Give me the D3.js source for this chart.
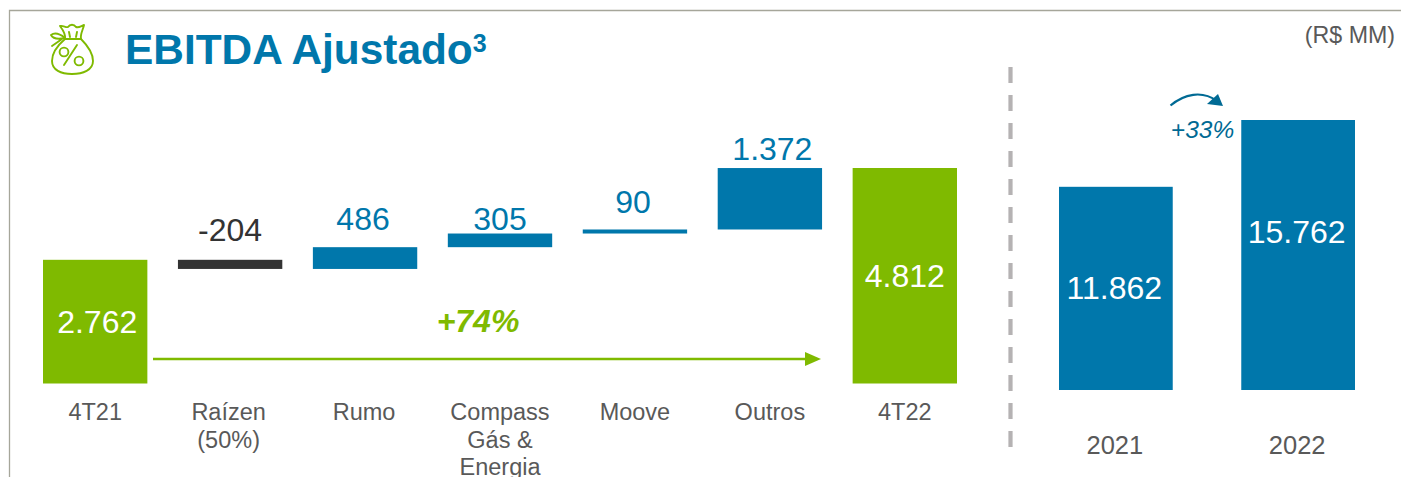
<!DOCTYPE html>
<html>
<head>
<meta charset="utf-8">
<script src="https://cdn.jsdelivr.net/npm/d3@7"></script>
<style>
html,body{margin:0;padding:0;background:#fff;overflow:hidden}
svg{display:block}
text{font-family:"Liberation Sans",Arial,sans-serif}
</style>
</head>
<body>
<svg id="c" width="1401" height="477"></svg>
<script>
const wfCategories = [["4T21"],["Raízen","(50%)"],["Rumo"],["Compass","Gás &","Energia"],["Moove"],["Outros"],["4T22"]];
const wfValues = [2762,-204,486,305,90,1372,4812];
const wfKinds = ["total","neg","pos","pos","pos","pos","total"];
const annualYears = ["2021","2022"];
const annualValues = [11862,15762];
const titleText = "EBITDA Ajustado";
const unitText = "(R$ MM)";
const wfGrowth = "+74%";
const annualGrowth = "+33%";

const BLUE="#0077ab", GREEN="#7fba00", DARK="#333333", GREY="#595959";
const svg=d3.select("#c");
const fmt=d3.formatLocale({decimal:",",thousands:".",grouping:[3],currency:["R$",""],minus:"-"}).format(",d");

// frame
svg.append("path").attr("d","M9.5,477V10.5H1401").attr("fill","none").attr("stroke","#a6a69a").attr("stroke-width",1.3);

// title
const t=svg.append("text").attr("x",125).attr("y",64).attr("font-size",42.4).attr("font-weight","bold").attr("fill",BLUE).text(titleText);
t.append("tspan").attr("font-size",25).attr("dy",-12).text("3");
svg.append("text").attr("x",1395).attr("y",43).attr("text-anchor","end").attr("font-size",23.2).attr("fill",GREY).text(unitText);

// icon
const ic=svg.append("g").attr("fill","none").attr("stroke",GREEN).attr("stroke-width",1.9).attr("stroke-linecap","round").attr("stroke-linejoin","round");
ic.append("path").attr("d","M65,39C58,45 52,52 52,61C52,70 61,74 72,74C83,74 93,70 93,61C93,52 87,45 81,39Z");
ic.append("path").attr("d","M65,39C66,35 63,30 60,26C63,25 66,28 68,27C70,24 74,24 76,27C79,28 81,26 84,25C83,30 80,34 81,39");
ic.append("path").attr("d","M65,38C60,34 55,32 51,35C53,39 60,39 65,38M62,39L52,46");
ic.append("path").attr("d","M70,37L69,32M76,37L77,32");
ic.append("path").attr("d","M64,65L77,45");
ic.append("circle").attr("cx",64).attr("cy",52).attr("r",4.4);
ic.append("circle").attr("cx",79).attr("cy",61).attr("r",4.4);

// waterfall
const wfKeys=wfCategories.map(d=>d.join(" "));
const x=d3.scaleBand().domain(wfKeys).range([43,957]).paddingInner(0.2266).paddingOuter(0);
const y=d3.scaleLinear().domain([0,4812]).range([383.5,168]);
let running=0;
const wf=wfValues.map((v,i)=>{
  let lo,hi;
  if(wfKinds[i]==="total"){lo=0;hi=v;running=v;}
  else{const n=running+v;lo=Math.min(running,n);hi=Math.max(running,n);running=n;}
  return {key:wfKeys[i],lines:wfCategories[i],v,kind:wfKinds[i],lo,hi};
});
const color=k=>k==="total"?GREEN:k==="neg"?DARK:BLUE;
svg.append("g").selectAll("rect").data(wf).join("rect")
  .attr("x",d=>x(d.key)).attr("width",x.bandwidth())
  .attr("y",d=>y(d.hi)).attr("height",d=>y(d.lo)-y(d.hi))
  .attr("fill",d=>color(d.kind));
const labelGap=[0,19,17,4,16,8,0];
const labelShift=[2,0,-2,0,-2,2.5,0];
svg.append("g").selectAll("text").data(wf).join("text")
  .attr("x",(d,i)=>x(d.key)+x.bandwidth()/2+labelShift[i])
  .attr("y",(d,i)=>d.kind==="total"?(y(d.hi)+y(0))/2+11:y(d.hi)-labelGap[i])
  .attr("text-anchor","middle").attr("font-size",32)
  .attr("fill",d=>d.kind==="total"?"#fff":d.kind==="neg"?DARK:BLUE)
  .text(d=>fmt(d.v));
const catShift=[0,-1.5,-1,0,0,0,0];
const cat=svg.append("g").selectAll("text").data(wf).join("text")
  .attr("text-anchor","middle").attr("font-size",23.5).attr("fill",GREY);
cat.selectAll("tspan").data((d,j)=>d.lines.map(l=>({l,cx:x(d.key)+x.bandwidth()/2+catShift[j]}))).join("tspan")
  .attr("x",d=>d.cx).attr("y",(d,i)=>420+i*27.5).text(d=>d.l);

// growth arrow
svg.append("line").attr("x1",153).attr("x2",808).attr("y1",359).attr("y2",359).attr("stroke",GREEN).attr("stroke-width",2.6);
svg.append("path").attr("d","M805,352L821,359L805,366Z").attr("fill",GREEN);
svg.append("text").attr("x",478).attr("y",332).attr("text-anchor","middle").attr("font-size",32).attr("font-weight","bold").attr("font-style","italic").attr("fill",GREEN).text(wfGrowth);

// divider
svg.append("line").attr("x1",1010.5).attr("x2",1010.5).attr("y1",67).attr("y2",447).attr("stroke","#b5b2b3").attr("stroke-width",4.2).attr("stroke-dasharray","16 12");

// annual
const xa=d3.scaleBand().domain(annualYears).range([1059,1355]).paddingInner(0.376).paddingOuter(0);
const ya=d3.scaleLinear().domain([0,15762]).range([390,120]);
const an=annualYears.map((k,i)=>({k,v:annualValues[i]}));
svg.append("g").selectAll("rect").data(an).join("rect")
  .attr("x",d=>xa(d.k)).attr("width",xa.bandwidth()).attr("y",d=>ya(d.v)).attr("height",d=>ya(0)-ya(d.v)).attr("fill",BLUE);
const annualLabelY=[299,243];
svg.append("g").selectAll("text").data(an).join("text")
  .attr("x",d=>xa(d.k)+xa.bandwidth()/2-1.5).attr("y",(d,i)=>annualLabelY[i]).attr("text-anchor","middle").attr("font-size",32).attr("fill","#fff").text(d=>fmt(d.v));
svg.append("g").selectAll("text").data(an).join("text")
  .attr("x",d=>xa(d.k)+xa.bandwidth()/2-1).attr("y",454).attr("text-anchor","middle").attr("font-size",25.5).attr("fill",GREY).text(d=>d.k);

// annual growth
svg.append("path").attr("d","M1170.5,105.5C1184,94 1202,90 1217,101").attr("fill","none").attr("stroke","#006a94").attr("stroke-width",2.2);
svg.append("path").attr("d","M1223,106L1207,104L1218,94Z").attr("fill","#006a94");
svg.append("text").attr("x",1202.5).attr("y",138).attr("text-anchor","middle").attr("font-size",24.5).attr("font-style","italic").attr("fill","#006a94").text(annualGrowth);
</script>
</body>
</html>
